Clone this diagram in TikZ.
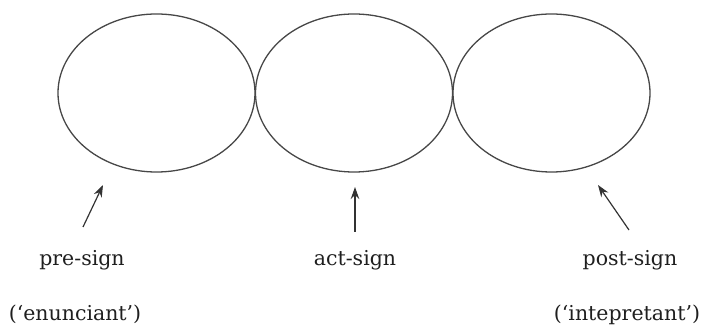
\documentclass[tikz,border=0pt]{standalone}
\usepackage{fontspec}
\setmainfont{DejaVu Serif}
\usetikzlibrary{shapes.geometric,arrows.meta}
\begin{document}
\begin{tikzpicture}[x=1pt,y=-1pt,
  sign/.style={draw=black!72, line width=1.3pt, ellipse, minimum width=197pt, minimum height=158pt, inner sep=0pt},
  lbl/.style={font=\fontsize{20.5}{24}\selectfont, text=black!88, inner sep=0pt, anchor=base},
  pointer/.style={draw=black!80, line width=1.2pt, -{Stealth[length=12pt,width=8.5pt]}}]
\useasboundingbox (0,0) rectangle (702,328);
\node[sign] (e1) at (156.5,93) {};
\node[sign] (e2) at (354,93) {};
\node[sign] (e3) at (551.5,93) {};
\node[lbl] (l1) at (82,266) {pre-sign};
\node[lbl] (l2) at (355,266) {act-sign};
\node[lbl] (l3) at (630,266) {post-sign};
\node[lbl] (n1) at (75,321) {(‘enunciant’)};
\node[lbl] (n3) at (627,321) {(‘intepretant’)};
\coordinate (t1) at (83,227);
\coordinate (h1) at (103,185);
\coordinate (t2) at (355,232);
\coordinate (h2) at (355,187);
\coordinate (t3) at (629,230);
\coordinate (h3) at (598,185);
\draw[pointer] (t1) -- (h1);
\draw[pointer] (t2) -- (h2);
\draw[pointer] (t3) -- (h3);
\end{tikzpicture}
\end{document}
